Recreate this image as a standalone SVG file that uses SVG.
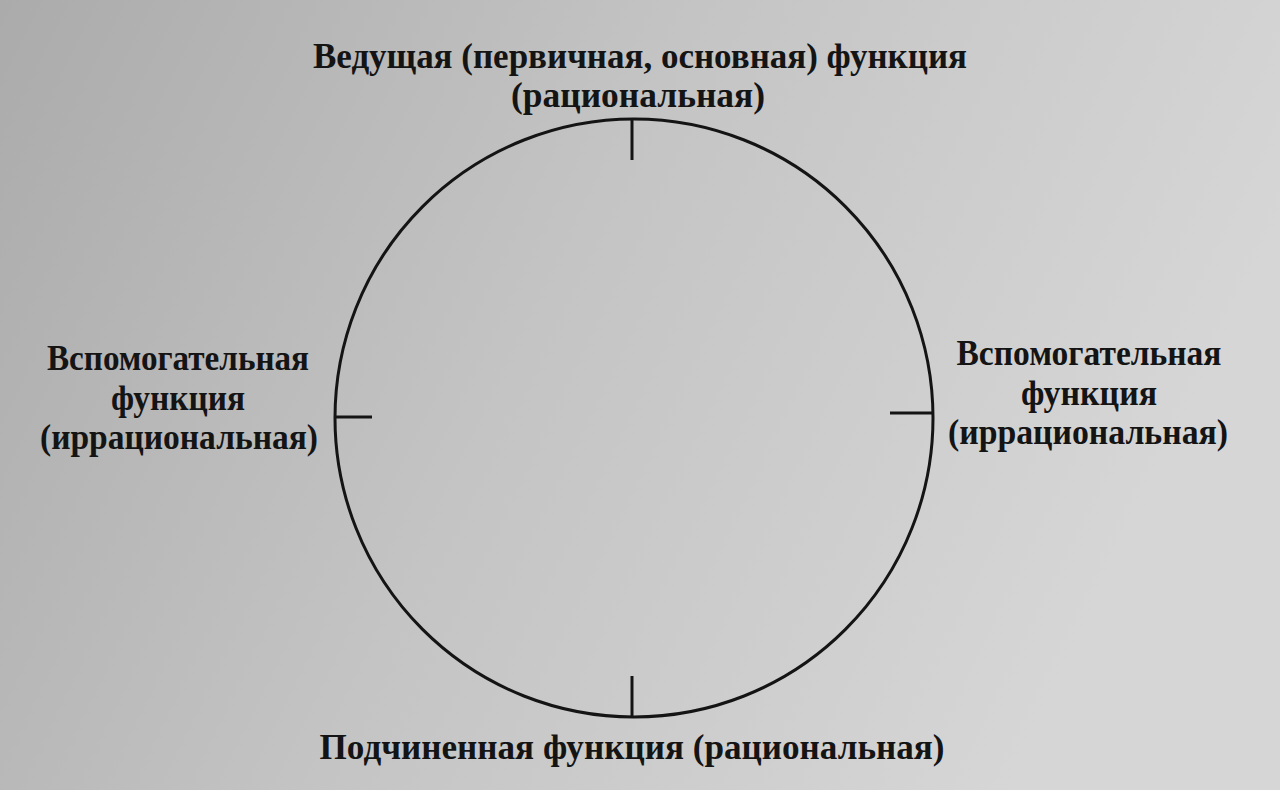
<svg xmlns="http://www.w3.org/2000/svg" width="1280" height="790" viewBox="0 0 1280 790">
<defs>
<linearGradient id="bg" x1="0" y1="0" x2="1" y2="0.3">
<stop offset="0" stop-color="#ababab"/>
<stop offset="0.5" stop-color="#c4c4c4"/>
<stop offset="1" stop-color="#d6d6d6"/>
</linearGradient>
<style>
.lbl{font-family:"Liberation Serif","DejaVu Serif",serif;font-weight:bold;font-size:36px;fill:#141414;text-anchor:middle}
.ln{stroke:#141414;stroke-width:3;fill:none}
</style>
</defs>
<rect width="1280" height="790" fill="url(#bg)"/>
<g id="connectors">
<circle class="ln" cx="634" cy="418" r="299"/>
<line class="ln" x1="632" y1="119" x2="632" y2="160"/>
<line class="ln" x1="632" y1="676" x2="632" y2="717"/>
<line class="ln" x1="336" y1="417" x2="372" y2="417"/>
<line class="ln" x1="890" y1="413" x2="932" y2="413"/>
</g>
<g id="node-top">
<text class="lbl" x="640" y="68" textLength="654" lengthAdjust="spacingAndGlyphs">Ведущая (первичная, основная) функция</text>
<text class="lbl" x="638" y="107" textLength="254" lengthAdjust="spacingAndGlyphs">(рациональная)</text>
</g>
<g id="node-left">
<text class="lbl" x="178" y="370" textLength="262" lengthAdjust="spacingAndGlyphs">Вспомогательная</text>
<text class="lbl" x="178" y="410" textLength="134" lengthAdjust="spacingAndGlyphs">функция</text>
<text class="lbl" x="179" y="449" textLength="278" lengthAdjust="spacingAndGlyphs">(иррациональная)</text>
</g>
<g id="node-right">
<text class="lbl" x="1089" y="365" textLength="265" lengthAdjust="spacingAndGlyphs">Вспомогательная</text>
<text class="lbl" x="1089" y="405" textLength="136" lengthAdjust="spacingAndGlyphs">функция</text>
<text class="lbl" x="1088" y="444" textLength="280" lengthAdjust="spacingAndGlyphs">(иррациональная)</text>
</g>
<g id="node-bottom">
<text class="lbl" x="632" y="759" textLength="625" lengthAdjust="spacingAndGlyphs">Подчиненная функция (рациональная)</text>
</g>
</svg>
